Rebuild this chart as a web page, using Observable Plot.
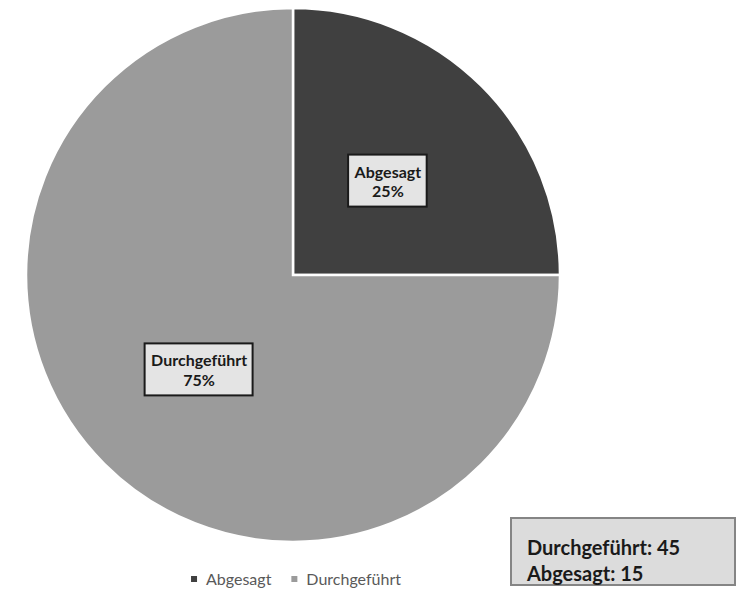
<!DOCTYPE html>
<html><head><meta charset="utf-8">
<script src="https://cdn.jsdelivr.net/npm/d3@7"></script>
<script src="https://cdn.jsdelivr.net/npm/@observablehq/plot@0.6"></script>
<style>body{margin:0;background:#fff}</style>
</head><body><div id="chart"></div>
<script>
const categories = ["Abgesagt", "Durchgeführt"];
const counts = [15, 45];
const colors = ["#404040", "#9b9b9b"];
const legendLabels = ["Abgesagt", "Durchgeführt"];
const summaryLines = ["Durchgeführt: 45", "Abgesagt: 15"];

const FONT = "Lato, 'Open Sans', sans-serif";
const W = 741, H = 591, CX = 293, CY = 275, R = 267;

const total = d3.sum(counts);
const data = categories.map((c, i) => ({category: c, value: counts[i], pct: Math.round(counts[i] / total * 100) + "%"}));
const pieData = d3.pie().value(d => d.value).sort(null)(data);
const unitArc = d3.arc().innerRadius(0).outerRadius(1);
const slices = pieData.map(p => {
  const [cx, cy] = unitArc.centroid(p);
  return {...p.data, startAngle: p.startAngle, endAngle: p.endAngle, lx: cx, ly: -cy};
});

const ctx = document.createElement("canvas").getContext("2d");
function measure(t, size, weight) { ctx.font = `${weight} ${size}px ${FONT}`; return ctx.measureText(t).width; }

const LFS = 16;

function pieMark(index, scales) {
  const {x, y} = scales;
  const cx = x(0), cy = y(0), r = x(1) - x(0);
  const arc = d3.arc().innerRadius(0).outerRadius(r);
  const g = d3.create("svg:g").attr("transform", `translate(${cx},${cy})`);
  g.selectAll("path").data(slices).join("path")
    .attr("d", arc)
    .attr("fill", (d, i) => colors[i])
    .attr("stroke", "#ffffff").attr("stroke-width", 2.5).attr("stroke-linejoin", "miter");
  return g.node();
}

function labelBoxes(index, scales) {
  const {x, y} = scales;
  const g = d3.create("svg:g");
  for (const d of slices) {
    const w = Math.max(measure(d.category, LFS, "bold"), measure(d.pct, LFS, "bold")) + 12;
    const h = 52;
    g.append("rect").attr("x", x(d.lx) - w / 2).attr("y", y(d.ly) - h / 2)
      .attr("width", w).attr("height", h)
      .attr("fill", "#e4e4e4").attr("stroke", "#1a1a1a").attr("stroke-width", 2);
  }
  return g.node();
}

function summaryBox() {
  const g = d3.create("svg:g");
  g.append("rect").attr("x", 511).attr("y", 518).attr("width", 224).attr("height", 67)
    .attr("fill", "#dcdcdc").attr("stroke", "#858585").attr("stroke-width", 2);
  g.selectAll("text").data(summaryLines).join("text")
    .attr("x", 527).attr("y", (d, i) => 555 + i * 26)
    .attr("text-anchor", "start")
    .attr("font-family", FONT).attr("font-size", 20).attr("font-weight", "bold").attr("fill", "#1a1a1a")
    .text(d => d);
  return g.node();
}

function legendMark() {
  const fs = 16;
  const g = d3.create("svg:g").attr("font-family", FONT).attr("font-size", fs).attr("fill", "#595959").attr("text-anchor", "start");
  const sw = 6, gap = 9, sep = 20;
  const widths = legendLabels.map(t => sw + gap + measure(t, fs, "normal"));
  const totalW = d3.sum(widths) + sep * (widths.length - 1);
  let xx = CX + 3 - totalW / 2;
  legendLabels.forEach((t, i) => {
    g.append("rect").attr("x", xx).attr("y", 579 - sw / 2).attr("width", sw).attr("height", sw).attr("fill", colors[i]);
    g.append("text").attr("x", xx + sw + gap).attr("y", 579).attr("dy", "0.35em").text(t);
    xx += widths[i] + sep;
  });
  return g.node();
}

const chart = Plot.plot({
  width: W, height: H,
  margin: 0,
  x: {domain: [-CX / R, (W - CX) / R], range: [0, W], axis: null},
  y: {domain: [-(H - CY) / R, CY / R], range: [H, 0], axis: null},
  style: {background: "#ffffff", fontFamily: FONT},
  marks: [
    pieMark,
    labelBoxes,
    Plot.text(slices, {
      x: "lx", y: "ly",
      text: d => `${d.category}\n${d.pct}`,
      fontSize: LFS, fontWeight: "bold", fill: "#1a1a1a", lineHeight: 1.2
    }),
    summaryBox,
    legendMark
  ]
});
document.getElementById("chart").appendChild(chart);
</script>
</body></html>
